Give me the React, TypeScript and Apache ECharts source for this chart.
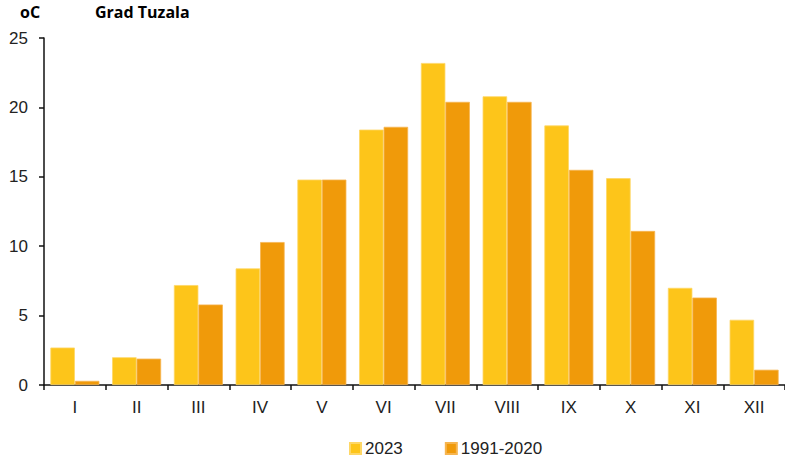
import React, { useEffect, useRef } from "react";
import * as echarts from "echarts";

const categories = ["I", "II", "III", "IV", "V", "VI", "VII", "VIII", "IX", "X", "XI", "XII"];
const values2023 = [2.7, 2.0, 7.2, 8.4, 14.8, 18.4, 23.2, 20.8, 18.7, 14.9, 7.0, 4.7];
const values1991 = [0.3, 1.9, 5.8, 10.3, 14.8, 18.6, 20.4, 20.4, 15.5, 11.1, 6.3, 1.1];
const seriesNames = ["2023", "1991-2020"];
const yTicks = { min: 0, max: 25, interval: 5 };

export default function App() {
  const ref = useRef<HTMLDivElement>(null);
  useEffect(() => {
    if (!ref.current) return;
    const chart = echarts.init(ref.current, null, { renderer: "svg" });
    const font = "Liberation Sans";
    chart.setOption({
      animation: false,
      textStyle: { fontFamily: font },
      graphic: [
        {
          type: "text",
          left: 20,
          top: 4,
          style: { text: "oC", fontFamily: "Open Sans", fontWeight: "bold", fontSize: 16, fill: "#000" },
        },
        {
          type: "text",
          left: 95,
          top: 4,
          style: { text: "Grad Tuzala", fontFamily: "Open Sans", fontWeight: "bold", fontSize: 16, fill: "#000" },
        },
      ],
      legend: {
        top: 440,
        left: 349,
        padding: 0,
        itemWidth: 11,
        itemHeight: 11,
        itemGap: 42,
        icon: "rect",
        textStyle: { fontSize: 17, color: "#222", fontFamily: font, padding: [0, 0, 0, -1] },
        data: seriesNames,
      },
      grid: { left: 44, right: -3, top: 38, bottom: 73 },
      xAxis: {
        type: "category",
        data: categories,
        axisLine: { show: true, lineStyle: { color: "#111", width: 1.5 } },
        axisTick: { show: true, length: 5, lineStyle: { color: "#111", width: 1.5 } },
        axisLabel: { fontSize: 17, color: "#222", margin: 14, fontFamily: font },
      },
      yAxis: {
        type: "value",
        min: yTicks.min,
        max: yTicks.max,
        interval: yTicks.interval,
        splitLine: { show: false },
        axisLine: { show: true, lineStyle: { color: "#111", width: 1.5 } },
        axisTick: { show: true, length: 5, lineStyle: { color: "#111", width: 1.5 } },
        axisLabel: { fontSize: 17, color: "#222", margin: 16, fontFamily: font },
      },
      series: [
        {
          name: seriesNames[0],
          type: "bar",
          data: values2023,
          barWidth: 24.5,
          barGap: "0%",
          itemStyle: { color: "#FDC51A", borderColor: "#FED766", borderWidth: 0.8 },
        },
        {
          name: seriesNames[1],
          type: "bar",
          data: values1991,
          barWidth: 24.5,
          barGap: "0%",
          itemStyle: { color: "#F09A0A", borderColor: "#F6B550", borderWidth: 0.8 },
        },
      ],
    });
    return () => chart.dispose();
  }, []);
  return <div ref={ref} style={{ width: 785, height: 458, position: "absolute", left: 0, top: 0 }} />;
}
